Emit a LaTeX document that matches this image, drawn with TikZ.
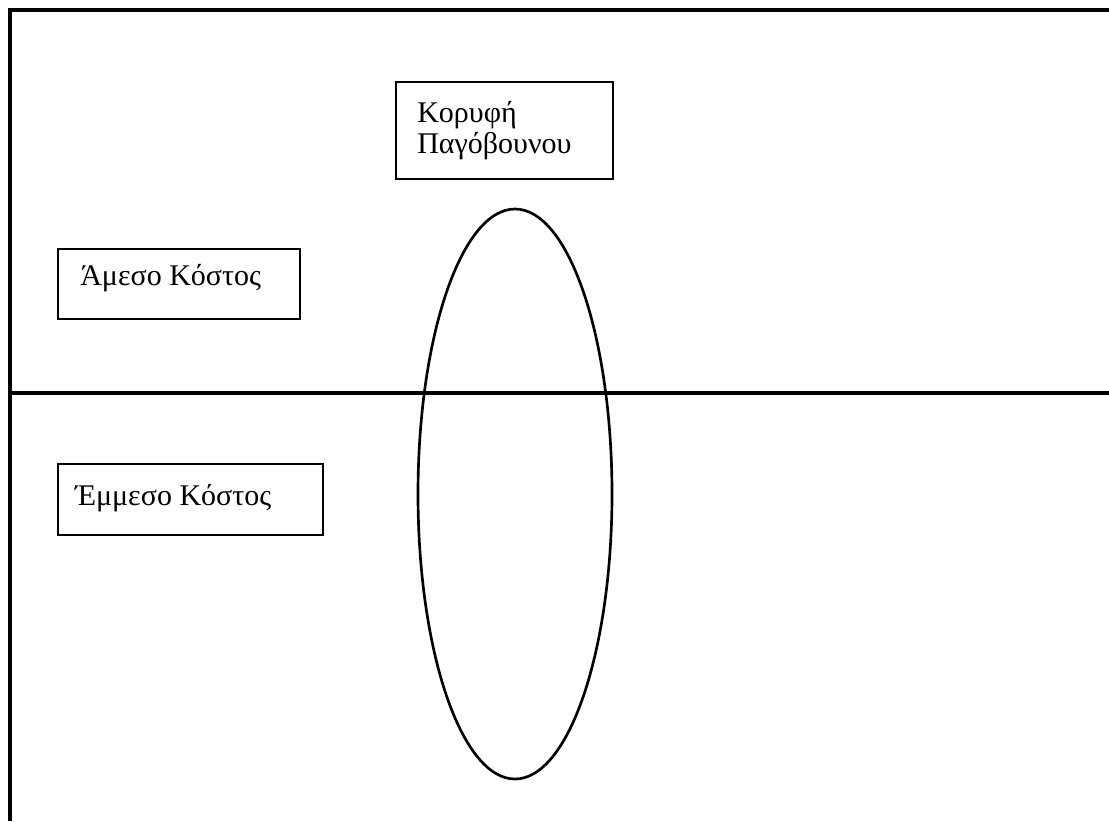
\documentclass[tikz,border=0pt]{standalone}
\usepackage{fontspec}
\setmainfont{Liberation Serif}
\usetikzlibrary{shapes.geometric}
\begin{document}
\begin{tikzpicture}[x=0.75pt,y=-0.75pt,
  frameline/.style={line width=2.4pt},
  box/.style={draw,line width=2pt,inner sep=0pt},
  label/.style={anchor=base west,inner sep=0pt,font=\fontsize{22.5}{26}\selectfont},
  oval/.style={draw,ellipse,line width=2pt,inner sep=0pt,minimum width=145.5pt,minimum height=427.5pt}]
\useasboundingbox (0,0) rectangle (1109,821);
\fill[white] (0,0) rectangle (1109,821);
% frame
\coordinate (tl) at (10,10);
\coordinate (tr) at (1109,10);
\coordinate (bl) at (10,821);
\coordinate (ml) at (10,393);
\coordinate (mr) at (1109,393);
\draw[frameline] (tr) -- (tl) -- (bl);
\draw[frameline] (ml) -- (mr);
% boxes
\node[box,minimum width=162.75pt,minimum height=72.75pt] (peak) at (504.5,130.5) {};
\node[label] (peak1) at (417,122) {Κορυφή};
\node[label] (peak2) at (417,153) {Παγόβουνου};
\node[box,minimum width=181.5pt,minimum height=52.5pt] (direct) at (179,284) {};
\node[label] (directt) at (80,285) {Άμεσο Κόστος};
\node[box,minimum width=198.75pt,minimum height=53.25pt] (indirect) at (190.5,499.5) {};
\node[label] (indirectt) at (75,505) {Έμμεσο Κόστος};
% ellipse
\node[oval] (berg) at (515,494) {};
\end{tikzpicture}
\end{document}
